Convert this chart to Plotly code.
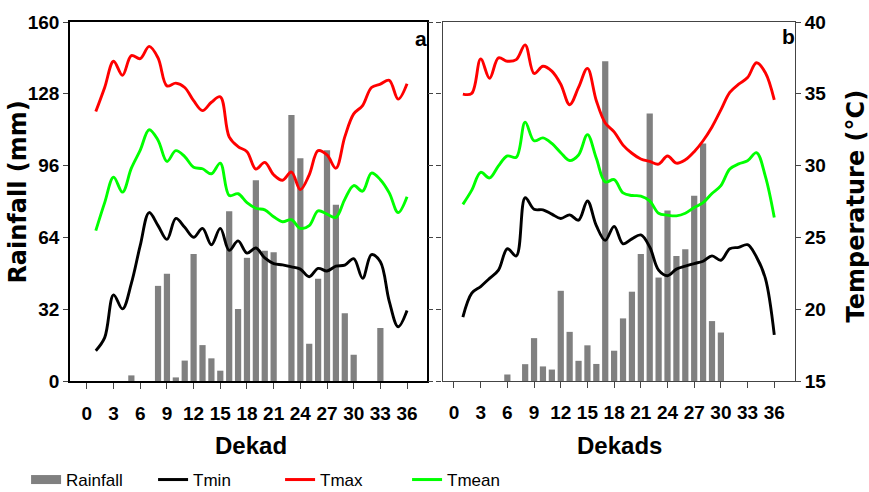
import plotly.graph_objects as go

# Dekads 1..36
dekads = list(range(1, 37))

# Panel a - rainfall (mm) and temperatures (°C)
rain_a = [0, 0, 0, 0, 2.5, 0, 0, 42.4, 47.8, 1.6, 9.1, 56.6, 16.0, 10.1, 4.6, 75.6,
          32.1, 54.9, 89.5, 58.0, 57.4, 0, 118.5, 99.3, 16.6, 45.6, 102.8, 78.6, 30.2, 11.7,
          0, 0, 23.6, 0, 0, 0]
tmin_a = [17.11, 18.02, 21.0, 20.02, 21.8, 24.44, 26.73, 25.82, 24.86, 26.32, 25.70, 25.01,
          25.63, 24.49, 25.63, 24.1, 24.76, 23.91, 24.26, 23.57, 23.18, 23.09, 22.95, 22.79,
          22.26, 22.84, 22.66, 23.0, 23.07, 23.52, 22.15, 23.8, 23.3, 20.55, 18.78, 19.91]
tmax_a = [33.76, 35.44, 37.27, 36.29, 37.66, 37.45, 38.30, 37.50, 35.55, 35.74, 35.44, 34.52,
          33.83, 34.41, 34.79, 32.0, 31.32, 30.97, 29.76, 30.22, 29.36, 28.98, 29.55, 28.33,
          29.36, 31.04, 30.74, 29.82, 32.0, 33.6, 34.18, 35.44, 35.67, 35.94, 34.63, 35.7]
tmean_a = [25.47, 27.42, 29.2, 28.15, 29.82, 31.08, 32.5, 31.77, 30.29, 31.04, 30.63, 29.89,
           29.78, 29.43, 30.17, 27.92, 28.04, 27.42, 27.03, 26.92, 26.44, 26.09, 26.23, 25.63,
           25.82, 26.85, 26.62, 26.39, 27.65, 28.61, 28.22, 29.48, 29.02, 28.1, 26.73, 27.83]

# Panel b - rainfall (mm) and temperatures (°C)
rain_b = [0, 0, 0, 0, 0, 2.9, 0, 7.5, 19.1, 6.5, 5.1, 40.2, 21.9, 9.0, 15.9, 7.6,
          142.5, 13.5, 27.9, 39.8, 56.6, 119.2, 46.1, 76.0, 55.7, 58.7, 82.6, 105.9, 26.7, 21.6,
          0, 0, 0, 0, 0, 0]
tmin_b = [19.45, 21.12, 21.58, 22.15, 22.72, 24.21, 23.71, 27.76, 26.96, 26.92, 26.62, 26.32,
          26.57, 26.2, 27.54, 25.82, 24.79, 25.77, 24.55, 24.9, 25.17, 24.33, 22.72, 22.33,
          22.79, 23.0, 23.18, 23.34, 23.71, 23.41, 24.21, 24.31, 24.49, 23.64, 22.15, 18.21]
tmax_b = [34.98, 35.03, 37.43, 36.08, 37.50, 37.27, 37.38, 38.41, 36.42, 36.92, 36.58, 35.67,
          34.24, 35.44, 36.77, 34.52, 32.97, 32.35, 31.43, 30.86, 30.46, 30.29, 30.1, 30.67,
          30.17, 30.4, 30.97, 31.73, 32.69, 33.88, 35.10, 35.67, 36.13, 37.16, 36.47, 34.57]
tmean_b = [27.3, 28.29, 29.53, 29.14, 29.98, 30.67, 30.58, 33.03, 31.73, 31.93, 31.54, 30.9,
           30.35, 30.74, 32.16, 30.51, 28.86, 29.02, 28.1, 27.92, 27.88, 27.54, 26.68, 26.55,
           26.5, 26.68, 27.08, 27.42, 28.06, 28.61, 29.76, 30.12, 30.33, 30.9, 29.25, 26.39]

rain_ticks = [0, 32, 64, 96, 128, 160]
temp_ticks = [15, 20, 25, 30, 35, 40]
dekad_ticks = list(range(0, 37, 3))

BAR = "#808080"
COLORS = {"Tmin": "#000000", "Tmax": "#ff0000", "Tmean": "#00ff00"}
NARROW = "Liberation Sans Narrow, Arial Narrow, Liberation Sans, Arial, sans-serif"
WIDE = "DejaVu Sans, Arial, sans-serif"


def bold(values):
    return [f"<b>{v}</b>" for v in values]


fig = go.Figure()

panels = [
    ("x", "y", "y2", rain_a, tmin_a, tmax_a, tmean_a),
    ("x2", "y3", "y4", rain_b, tmin_b, tmax_b, tmean_b),
]
for xa, ya_rain, ya_temp, rain, tmin, tmax, tmean in panels:
    fig.add_trace(go.Bar(x=dekads, y=rain, xaxis=xa, yaxis=ya_rain, marker_color=BAR,
                         marker_line_width=0, width=0.7, name="Rainfall", showlegend=False))
    for name, vals in (("Tmin", tmin), ("Tmax", tmax), ("Tmean", tmean)):
        fig.add_trace(go.Scatter(x=dekads, y=vals, xaxis=xa, yaxis=ya_temp, mode="lines",
                                 line=dict(color=COLORS[name], width=2.9, shape="spline"),
                                 name=name, showlegend=False))

# legend entries (rainfall shown as a wide grey swatch)
fig.add_trace(go.Scatter(x=[None], y=[None], mode="lines", name="Rainfall",
                         line=dict(color=BAR, width=9)))
for name in ("Tmin", "Tmax", "Tmean"):
    fig.add_trace(go.Scatter(x=[None], y=[None], mode="lines", name=name,
                             line=dict(color=COLORS[name], width=3)))

tickfont = dict(family=NARROW, size=19, color="#000000")
x_common = dict(tickmode="array", tickvals=dekad_ticks, ticktext=bold(dekad_ticks),
                ticks="outside", ticklen=6, tickwidth=1.2, tickcolor="#444444", showline=True,
                mirror=True, showgrid=False, zeroline=False, tickfont=tickfont,
                ticklabelstandoff=8)
y_common = dict(tickmode="array", ticks="outside", ticklen=5, tickwidth=1.2,
                tickcolor="#444444", showgrid=False, zeroline=False, tickfont=tickfont)

fig.update_layout(
    width=869, height=492,
    margin=dict(l=70, r=74, t=17, b=111),
    plot_bgcolor="white", paper_bgcolor="white",
    barmode="overlay",
    xaxis=dict(domain=[0, 0.4931], anchor="y", range=[-1.9, 38.3], linecolor="#000000",
               linewidth=1.5, **x_common),
    xaxis2=dict(domain=[0.5138, 1], anchor="y3", range=[-1.29, 38.33], linecolor="#444444",
                linewidth=1.3, **x_common),
    yaxis=dict(domain=[0, 1], anchor="x", range=[0, 160], tickvals=rain_ticks,
               ticktext=bold(rain_ticks), showline=True, mirror=True, linecolor="#000000",
               linewidth=1.5, **y_common),
    yaxis2=dict(overlaying="y", anchor="x", side="right", range=[15, 40], tickvals=temp_ticks,
                showticklabels=False, showline=False, **y_common),
    yaxis3=dict(domain=[0, 1], anchor="x2", range=[0, 160], tickvals=rain_ticks,
                showticklabels=False, showline=True, mirror=True, linecolor="#444444",
                linewidth=1.3, **y_common),
    yaxis4=dict(overlaying="y3", anchor="x2", side="right", range=[15, 40], tickvals=temp_ticks,
                ticktext=bold(temp_ticks), showline=False, **y_common),
    legend=dict(orientation="h", xref="container", yref="container", x=0.03, y=1 - 480 / 492,
                xanchor="left", yanchor="middle", entrywidth=82, entrywidthmode="pixels",
                font=dict(family=NARROW, size=17, color="#000000"), bgcolor="rgba(0,0,0,0)",
                traceorder="normal"),
    showlegend=True,
)

annotations = [
    dict(text="<b>Rainfall (mm)</b>", x=18, y=190, textangle=-90,
         font=dict(family=WIDE, size=24, color="#000000")),
    dict(text="<b>Temperature (°C)</b>", x=856, y=204, textangle=-90,
         font=dict(family=WIDE, size=24, color="#000000")),
    dict(text="<b>Dekad</b>", x=251, y=446, font=dict(family=NARROW, size=24, color="#000000")),
    dict(text="<b>Dekads</b>", x=619, y=446, font=dict(family=NARROW, size=24, color="#000000")),
    dict(text="<b>a</b>", x=421, y=34, font=dict(family=NARROW, size=21, color="#000000")),
    dict(text="<b>b</b>", x=788, y=32, font=dict(family=NARROW, size=21, color="#000000")),
]
for a in annotations:
    fig.add_annotation(xref="paper", yref="paper",
                       x=(a["x"] - 70) / 725, y=1 - (a["y"] - 17) / 364,
                       text=a["text"], showarrow=False, textangle=a.get("textangle", 0),
                       xanchor="center", yanchor="middle", font=a["font"])

fig.write_html("out.html")
